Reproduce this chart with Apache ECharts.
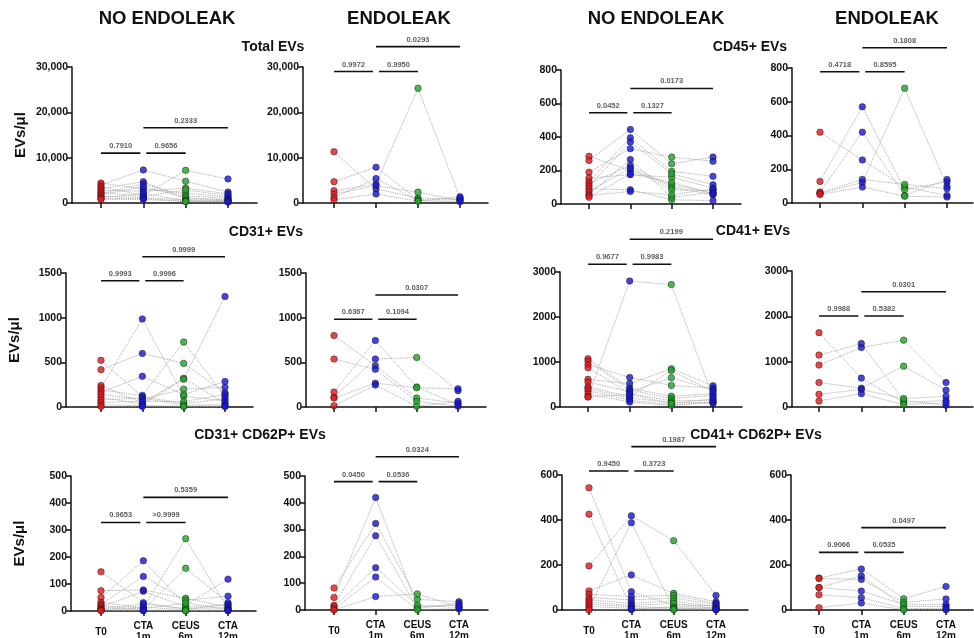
<!DOCTYPE html>
<html><head><meta charset="utf-8">
<script src="https://cdn.jsdelivr.net/npm/echarts@6/dist/echarts.min.js"></script>
<style>html,body{margin:0;padding:0;background:#fff}#c{width:974px;height:638px}</style>
</head><body><div id="c"></div>
<script>
// ---------- DATA ----------
const timepoints = ['T0', 'CTA\n1m', 'CEUS\n6m', 'CTA\n12m'];

// Total EVs - NO ENDOLEAK (index = subject)
const totalNo_T0    = [4400, 4000, 3600, 3200, 2800, 2400, 2100, 1800, 1500, 1200, 1000, 800];
const totalNo_CTA1  = [3100, 7300, 1700, 4700, 2600, 1400, 4200, 3600, 1200, 2100, 1000, 800];
const totalNo_CEUS6 = [2200, 4800, 7200, 900, 3300, 2900, 1600, 1200, 700, 500, 400, 300];
const totalNo_CTA12 = [1300, 2400, 5300, 800, 2000, 1600, 1000, 600, 500, 400, 300, 200];
// Total EVs - ENDOLEAK
const totalEn_T0    = [11300, 4700, 2700, 2000, 1200, 700];
const totalEn_CTA1  = [3100, 7900, 4200, 3800, 5400, 2000];
const totalEn_CEUS6 = [1100, 700, 25300, 2400, 500, 400];
const totalEn_CTA12 = [900, 700, 1100, 500, 300, 1400];

// CD45+ EVs
const cd45No_T0    = [285, 260, 190, 155, 135, 120, 105, 90, 75, 60, 50, 40];
const cd45No_CTA1  = [200, 445, 330, 175, 395, 230, 370, 85, 215, 265, 75, 180];
const cd45No_CEUS6 = [115, 240, 280, 160, 195, 100, 180, 25, 85, 40, 55, 130];
const cd45No_CTA12 = [65, 280, 255, 95, 165, 55, 115, 20, 80, 70, 90, 60];
const cd45En_T0    = [420, 128, 65, 55, 60, 50];
const cd45En_CTA1  = [255, 570, 420, 122, 140, 95];
const cd45En_CEUS6 = [95, 80, 45, 680, 110, 40];
const cd45En_CTA12 = [45, 125, 140, 100, 85, 35];

// CD31+ EVs
const cd31No_T0    = [522, 418, 240, 215, 190, 165, 140, 110, 80, 50, 25, 5];
const cd31No_CTA1  = [115, 600, 45, 985, 130, 343, 85, 30, 100, 65, 15, 5];
const cd31No_CEUS6 = [40, 488, 322, 120, 727, 140, 200, 310, 20, 60, 10, 5];
const cd31No_CTA12 = [90, 160, 45, 70, 120, 285, 220, 1237, 25, 140, 10, 5];
const cd31En_T0    = [800, 537, 167, 110, 100, 15];
const cd31En_CTA1  = [463, 422, 745, 537, 267, 245];
const cd31En_CEUS6 = [100, 63, 225, 555, 215, 8];
const cd31En_CTA12 = [45, 8, 25, 182, 203, 63];

// CD41+ EVs
const cd41No_T0    = [1075, 1020, 940, 870, 615, 555, 450, 405, 360, 290, 230, 220];
const cd41No_CTA1  = [420, 380, 655, 300, 520, 340, 230, 200, 150, 110, 280, 2800];
const cd41No_CEUS6 = [240, 190, 480, 140, 850, 650, 810, 100, 55, 35, 80, 2720];
const cd41No_CTA12 = [300, 260, 420, 150, 470, 380, 350, 100, 80, 120, 180, 220];
const cd41En_T0    = [1640, 1145, 925, 540, 280, 133];
const cd41En_CTA1  = [637, 1400, 1310, 415, 385, 295];
const cd41En_CEUS6 = [96, 150, 1475, 900, 185, 52];
const cd41En_CTA12 = [148, 37, 540, 370, 237, 96];

// CD31+ CD62P+ EVs
const cd31pNo_T0    = [145, 75, 50, 32, 25, 20, 15, 10, 7, 5, 3, 1];
const cd31pNo_CTA1  = [31, 78, 186, 12, 128, 5, 73, 25, 8, 15, 3, 1];
const cd31pNo_CEUS6 = [6, 47, 22, 268, 40, 158, 15, 10, 30, 4, 2, 1];
const cd31pNo_CTA12 = [25, 15, 118, 8, 55, 31, 22, 12, 5, 3, 2, 1];
const cd31pEn_T0    = [82, 47, 18, 12, 4, 0];
const cd31pEn_CTA1  = [323, 420, 277, 158, 123, 50];
const cd31pEn_CEUS6 = [40, 12, 6, 18, 1, 60];
const cd31pEn_CTA12 = [31, 18, 25, 9, 4, 12];

// CD41+ CD62P+ EVs
const cd41pNo_T0    = [543, 426, 196, 85, 70, 55, 45, 35, 25, 15, 8, 0];
const cd41pNo_CTA1  = [81, 4, 419, 156, 60, 45, 30, 20, 15, 8, 388, 2];
const cd41pNo_CEUS6 = [22, 15, 308, 74, 65, 52, 40, 30, 10, 7, 4, 2];
const cd41pNo_CTA12 = [20, 10, 65, 37, 30, 25, 15, 7, 5, 3, 2, 1];
const cd41pEn_T0    = [142, 140, 100, 100, 68, 10];
const cd41pEn_CTA1  = [182, 136, 152, 84, 55, 31];
const cd41pEn_CEUS6 = [50, 34, 16, 25, 7, 1];
const cd41pEn_CTA12 = [105, 49, 16, 25, 7, 1];

// p-values: [T0 vs CTA1m, CTA1m vs CEUS6m, CTA1m vs CTA12m]
const pTotalNo = ['0.7910', '0.9656', '0.2333'];
const pTotalEn = ['0.9972', '0.9950', '0.0293'];
const pCd45No  = ['0.0452', '0.1327', '0.0173'];
const pCd45En  = ['0.4718', '0.8595', '0.1808'];
const pCd31No  = ['0.9993', '0.9996', '0.9999'];
const pCd31En  = ['0.6367', '0.1094', '0.0307'];
const pCd41No  = ['0.9677', '0.9983', '0.2199'];
const pCd41En  = ['0.9988', '0.5382', '0.0301'];
const pCd31pNo = ['0.9653', '>0.9999', '0.5359'];
const pCd31pEn = ['0.0450', '0.0536', '0.0324'];
const pCd41pNo = ['0.9450', '0.3723', '0.1987'];
const pCd41pEn = ['0.9066', '0.0535', '0.0497'];

// ---------- LAYOUT ----------
const FONT = "'Liberation Sans', Arial, Helvetica, sans-serif";
const dotColors = ['#e8161c', '#1616dc', '#1fa626', '#1616dc'];

const panels = [
  {d:[totalNo_T0,totalNo_CTA1,totalNo_CEUS6,totalNo_CTA12], p:pTotalNo, ymax:30000, step:10000, bars:[11000,16600], L:{ax:72, c0:101, c3:228, ex:257, top:67, bot:203}, yname:true, xl:false},
  {d:[totalEn_T0,totalEn_CTA1,totalEn_CEUS6,totalEn_CTA12], p:pTotalEn, ymax:30000, step:10000, bars:[29000,34500], L:{ax:303, c0:334, c3:460, ex:488, top:67, bot:203}, yname:false, xl:false},
  {d:[cd45No_T0,cd45No_CTA1,cd45No_CEUS6,cd45No_CTA12], p:pCd45No, ymax:800, step:200, bars:[545,690], L:{ax:561, c0:589, c3:713, ex:741, top:70, bot:204}, yname:false, xl:false},
  {d:[cd45En_T0,cd45En_CTA1,cd45En_CEUS6,cd45En_CTA12], p:pCd45En, ymax:800, step:200, bars:[778,920], L:{ax:792, c0:820, c3:947, ex:973, top:68, bot:203}, yname:false, xl:false},
  {d:[cd31No_T0,cd31No_CTA1,cd31No_CEUS6,cd31No_CTA12], p:pCd31No, ymax:1500, step:500, bars:[1414,1682], L:{ax:66, c0:101, c3:225, ex:253, top:273, bot:407}, yname:true, xl:false},
  {d:[cd31En_T0,cd31En_CTA1,cd31En_CEUS6,cd31En_CTA12], p:pCd31En, ymax:1500, step:500, bars:[982,1254], L:{ax:306, c0:334, c3:458, ex:486, top:273, bot:407}, yname:false, xl:false},
  {d:[cd41No_T0,cd41No_CTA1,cd41No_CEUS6,cd41No_CTA12], p:pCd41No, ymax:3000, step:1000, bars:[3171,3727], L:{ax:560, c0:588, c3:713, ex:742, top:272, bot:407}, yname:false, xl:false},
  {d:[cd41En_T0,cd41En_CTA1,cd41En_CEUS6,cd41En_CTA12], p:pCd41En, ymax:3000, step:1000, bars:[2007,2543], L:{ax:792, c0:819, c3:946, ex:973, top:271, bot:407}, yname:false, xl:false},
  {d:[cd31pNo_T0,cd31pNo_CTA1,cd31pNo_CEUS6,cd31pNo_CTA12], p:pCd31pNo, ymax:500, step:100, bars:[328,421], L:{ax:71, c0:101, c3:228, ex:256, top:476, bot:611}, yname:true, xl:true},
  {d:[cd31pEn_T0,cd31pEn_CTA1,cd31pEn_CEUS6,cd31pEn_CTA12], p:pCd31pEn, ymax:500, step:100, bars:[479,572], L:{ax:305, c0:334, c3:459, ex:488, top:476, bot:610}, yname:false, xl:true},
  {d:[cd41pNo_T0,cd41pNo_CTA1,cd41pNo_CEUS6,cd41pNo_CTA12], p:pCd41pNo, ymax:600, step:200, bars:[618,726], L:{ax:562, c0:589, c3:716, ex:748, top:475, bot:610}, yname:false, xl:true},
  {d:[cd41pEn_T0,cd41pEn_CTA1,cd41pEn_CEUS6,cd41pEn_CTA12], p:pCd41pEn, ymax:600, step:200, bars:[256,366], L:{ax:791, c0:819, c3:946, ex:973, top:475, bot:610}, yname:false, xl:true}
];

const grid = [], xAxis = [], yAxis = [], series = [];
const axisLineStyle = {color:'#111', width:1.5};

panels.forEach((P, i) => {
  const L = P.L;
  const sp = (L.c3 - L.c0) / 3;
  const xmin = -(L.c0 - L.ax) / sp;
  const xmax = 3 + (L.ex - L.c3) / sp;
  grid.push({left:L.ax, top:L.top, width:L.ex - L.ax, height:L.bot - L.top, containLabel:false, outerBoundsMode:'none'});
  xAxis.push({
    gridIndex:i, type:'value', min:xmin, max:xmax,
    splitLine:{show:false},
    axisLine:{show:true, onZero:false, lineStyle:axisLineStyle},
    axisTick:{show:true, customValues:[0,1,2,3], length:5, lineStyle:axisLineStyle},
    axisLabel:{show:P.xl, customValues:[0,1,2,3], formatter:v => timepoints[Math.round(v)] || '',
      fontFamily:FONT, fontWeight:'bold', fontSize:10, color:'#111', lineHeight:11,
      margin:21, verticalAlign:'middle', align:'center'}
  });
  yAxis.push({
    gridIndex:i, type:'value', min:0, max:P.ymax, interval:P.step,
    splitLine:{show:false},
    axisLine:{show:true, onZero:false, lineStyle:axisLineStyle},
    axisTick:{show:true, length:5, lineStyle:axisLineStyle},
    axisLabel:{fontFamily:FONT, fontWeight:'bold', fontSize:10.5, color:'#111', margin:4,
      formatter:v => P.ymax >= 10000 ? v.toLocaleString('en-US') : String(v)},
    name: P.yname ? 'EVs/μl' : '', nameLocation:'middle', nameGap:44, nameRotate:90,
    nameTextStyle:{fontFamily:FONT, fontWeight:'bold', fontSize:15, color:'#111'}
  });
  // subject connecting lines
  const n = P.d[0].length;
  for (let s = 0; s < n; s++) {
    series.push({
      type:'line', xAxisIndex:i, yAxisIndex:i, silent:true, animation:false,
      data:P.d.map((arr, t) => [t, arr[s]]),
      symbol:'none', z:1,
      lineStyle:{color:'#a0a0a0', width:0.9, type:'dotted'}
    });
  }
  // points per timepoint
  P.d.forEach((arr, t) => {
    series.push({
      type:'scatter', xAxisIndex:i, yAxisIndex:i, silent:true, animation:false, z:3,
      data:arr.map(v => [t, v]), symbolSize:6.5,
      itemStyle:{color:dotColors[t], borderColor:'#1a1a1a', borderWidth:0.6}
    });
  });
  // significance bars
  const segs = [[0, 0.93, P.bars[0]], [1.07, 2.0, P.bars[0]], [1.0, 3.0, P.bars[1]]];
  segs.forEach((b, k) => {
    series.push({
      type:'line', xAxisIndex:i, yAxisIndex:i, silent:true, animation:false, clip:false, z:5,
      data:[[b[0], b[2]], [b[1], b[2]]], symbol:'none',
      lineStyle:{color:'#111', width:1.6}
    });
    series.push({
      type:'scatter', xAxisIndex:i, yAxisIndex:i, silent:true, animation:false, clip:false, z:5,
      data:[[(b[0] + b[1]) / 2, b[2]]], symbolSize:0.01, itemStyle:{color:'rgba(0,0,0,0)'},
      label:{show:true, position:'top', distance:3, formatter:P.p[k],
        fontFamily:FONT, fontWeight:'bold', fontSize:7.5, color:'#333'}
    });
  });
});

const titleStyle = (x, y, text, size) => ({
  type:'text', x:x, y:y, silent:true,
  style:{text:text, fill:'#111', font:'bold ' + size + 'px ' + FONT, textAlign:'center', textVerticalAlign:'middle'}
});

const graphic = [
  titleStyle(167, 19, 'NO ENDOLEAK', 18.5),
  titleStyle(399, 19, 'ENDOLEAK', 18.5),
  titleStyle(656, 19, 'NO ENDOLEAK', 18.5),
  titleStyle(887, 19, 'ENDOLEAK', 18.5),
  titleStyle(273, 47, 'Total EVs', 14),
  titleStyle(750, 47, 'CD45+ EVs', 14),
  titleStyle(266, 232, 'CD31+ EVs', 14),
  titleStyle(753, 231, 'CD41+ EVs', 14),
  titleStyle(260, 435, 'CD31+ CD62P+ EVs', 14),
  titleStyle(756, 435, 'CD41+ CD62P+ EVs', 14)
];

const chart = echarts.init(document.getElementById('c'), null, {renderer:'canvas'});
chart.setOption({
  animation:false,
  backgroundColor:'#fff',
  textStyle:{fontFamily:FONT},
  grid:grid, xAxis:xAxis, yAxis:yAxis, series:series, graphic:graphic
});
</script>
</body></html>
